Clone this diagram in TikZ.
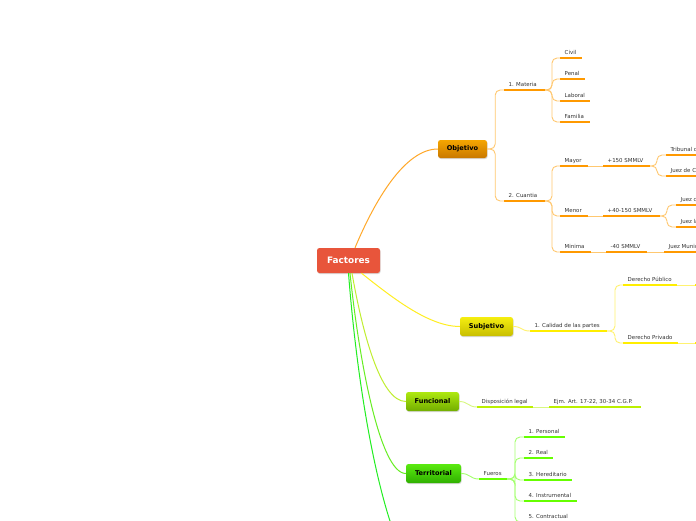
\documentclass[tikz,border=0pt]{standalone}
\usepackage{fontspec}
\setmainfont{DejaVu Sans}
\usetikzlibrary{calc,shadows}
\definecolor{facred}{HTML}{E8553B}
\definecolor{orUL}{HTML}{FF9900}
\definecolor{orC1}{HTML}{FFA829}
\definecolor{orC2}{HTML}{FFC870}
\definecolor{orTop}{HTML}{F5A500}
\definecolor{orBot}{HTML}{C97800}
\definecolor{yeUL}{HTML}{FFEE00}
\definecolor{yeC1}{HTML}{FFEE22}
\definecolor{yeC2}{HTML}{FFF270}
\definecolor{yeTop}{HTML}{F5EE10}
\definecolor{yeBot}{HTML}{C8BE00}
\definecolor{liUL}{HTML}{BBF000}
\definecolor{liC1}{HTML}{C0EE30}
\definecolor{liC2}{HTML}{D8F880}
\definecolor{liTop}{HTML}{AEE810}
\definecolor{liBot}{HTML}{72AE00}
\definecolor{grUL}{HTML}{66FF00}
\definecolor{grC1}{HTML}{66EE22}
\definecolor{grC2}{HTML}{A5FF70}
\definecolor{grTop}{HTML}{5AEA10}
\definecolor{grBot}{HTML}{30B000}
\definecolor{grBr}{HTML}{22EE22}
\definecolor{txt}{HTML}{333333}
\tikzset{
  mainnode/.style={rounded corners=2.5pt, inner sep=0pt, minimum height=19pt,
    font=\fontsize{6.6}{7.5}\selectfont\bfseries, text=black,
    drop shadow={opacity=0.3, shadow xshift=0.6pt, shadow yshift=-1pt}},
  sub/.style={font=\fontsize{5.45}{6.5}\selectfont, text=txt, inner xsep=4.5pt,
    inner ysep=3.6pt, text depth=0pt, anchor=south west},
  ul/.style={draw=#1, line width=2.4pt},
  cone/.style={draw=#1, line width=1pt},
  ctwo/.style={draw=#1, line width=0.9pt},
  forkline/.style={draw=#1, line width=0.9pt, rounded corners=5pt}
}
\newcommand\tpc[6]{%
  \node[sub] (#1) at (#2,#3) {#6};
  \coordinate (#1e) at (#4,#3);
  \draw[ul=#5] (#1.south west) -- (#1e);}
\begin{document}
\begin{tikzpicture}[x=1pt,y=-1pt]
\clip (0,0) rectangle (696,520);
\fill[white] (0,0) rectangle (696,520);

\coordinate (botend) at (393,530);

% ---- main nodes
\node[mainnode, minimum width=63pt, minimum height=25pt, fill=facred, text=white,
      font=\fontsize{8.9}{10}\selectfont\bfseries] (fac) at (348.5,260.5) {Factores};
\node[mainnode, minimum width=49pt, minimum height=18pt, top color=orTop, bottom color=orBot] (obj) at (462.5,149) {Objetivo};
\node[mainnode, minimum width=53pt, top color=yeTop, bottom color=yeBot] (subj) at (486.5,326.5) {Subjetivo};
\node[mainnode, minimum width=53pt, top color=liTop, bottom color=liBot] (fun) at (432.5,401.5) {Funcional};
\node[mainnode, minimum width=55pt, top color=grTop, bottom color=grBot] (ter) at (433.5,473.5) {Territorial};

% ---- main branch connectors
\draw[cone=orC1] ($(fac.north)+(6.5,0)$) .. controls (375,200) and (405,149) .. (obj.west);
\draw[cone=yeC1] ($(fac.south)+(13,0)$) .. controls (395,300) and (430,326.5) .. (subj.west);
\draw[cone=liC1] ($(fac.south)+(3.5,0)$) .. controls (362,330) and (380,401.5) .. (fun.west);
\draw[cone=grC1] ($(fac.south)+(1.5,0)$) .. controls (359,360) and (380,473.5) .. (ter.west);
\draw[cone=grBr] ($(fac.south)+(0,0)$) .. controls (356,370) and (372,470) .. (botend);

% ---- Objetivo subtree
\tpc{materia}{504}{90}{545}{orUL}{1. Materia}
\tpc{cuantia}{504}{201}{545}{orUL}{2. Cuantia}
\draw[forkline=orC2] (obj.east) -- ++(8,0) |- (materia.south west);
\draw[forkline=orC2] (obj.east) -- ++(8,0) |- (cuantia.south west);

\tpc{civil}{560}{58}{582}{orUL}{Civil}
\tpc{penal}{560}{79}{585}{orUL}{Penal}
\tpc{laboral}{560}{101}{590}{orUL}{Laboral}
\tpc{familia}{560}{122}{590}{orUL}{Familia}
\foreach \c in {civil,penal,laboral,familia}
  \draw[forkline=orC2] (materiae) -- ++(7,0) |- (\c.south west);

\tpc{mayor}{560}{166}{588}{orUL}{Mayor}
\tpc{menor}{560}{216}{588}{orUL}{Menor}
\tpc{minima}{560}{252}{591}{orUL}{Minima}
\foreach \c in {mayor,menor,minima}
  \draw[forkline=orC2] (cuantiae) -- ++(7,0) |- (\c.south west);

\tpc{mcien}{603}{166}{650}{orUL}{+150 SMMLV}
\tpc{mcuar}{603}{216}{660}{orUL}{+40-150 SMMLV}
\tpc{mmin}{606}{252}{647}{orUL}{-40 SMMLV}
\draw[ctwo=orC2] (mayore) -- (mcien.south west);
\draw[ctwo=orC2] (menore) -- (mcuar.south west);
\draw[ctwo=orC2] (minimae) -- (mmin.south west);

\tpc{trib}{666}{155}{730}{orUL}{Tribunal de Distrito}
\tpc{jcir}{666}{176}{730}{orUL}{Juez de Circuito}
\draw[forkline=orC2] (mciene) -- ++(7,0) |- (trib.south west);
\draw[forkline=orC2] (mciene) -- ++(7,0) |- (jcir.south west);
\tpc{jciv}{676}{205}{730}{orUL}{Juez civil}
\tpc{jlab}{676}{227}{730}{orUL}{Juez laboral}
\draw[forkline=orC2] (mcuare) -- ++(7,0) |- (jciv.south west);
\draw[forkline=orC2] (mcuare) -- ++(7,0) |- (jlab.south west);
\tpc{jmun}{664}{252}{730}{orUL}{Juez Municipal}
\draw[ctwo=orC2] (mmine) -- (jmun.south west);

% ---- Subjetivo subtree
\tpc{calidad}{530}{331}{607}{yeUL}{1. Calidad de las partes}
\draw[ctwo=yeC2] (subj.east) .. controls +(9,0) and +(-9,0) .. (calidad.south west);
\tpc{dpub}{623}{285}{677}{yeUL}{Derecho Público}
\tpc{dpriv}{623}{343}{678}{yeUL}{Derecho Privado}
\draw[forkline=yeC2] (calidade) -- ++(8,0) |- (dpub.south west);
\draw[forkline=yeC2] (calidade) -- ++(8,0) |- (dpriv.south west);
\coordinate (dpubc) at (695,285);
\coordinate (dprivc) at (695,343);
\draw[ctwo=yeC2] (dpube) -- (dpubc);
\draw[ctwo=yeC2] (dprive) -- (dprivc);
\draw[ul=yeUL] (dpubc) -- ++(10,0);
\draw[ul=yeUL] (dprivc) -- ++(10,0);

% ---- Funcional subtree
\tpc{disp}{477}{407}{533}{liUL}{Disposición legal}
\draw[ctwo=liC2] (fun.east) .. controls +(9,0) and +(-9,0) .. (disp.south west);
\tpc{ejm}{549}{407}{641}{liUL}{Ejm. Art. 17-22, 30-34 C.G.P.}
\draw[ctwo=liC2] (dispe) -- (ejm.south west);

% ---- Territorial subtree
\tpc{fueros}{479}{479}{507}{grUL}{Fueros}
\draw[ctwo=grC2] (ter.east) .. controls +(9,0) and +(-9,0) .. (fueros.south west);
\tpc{pers}{524}{437}{565}{grUL}{1. Personal}
\tpc{real}{524}{458}{553}{grUL}{2. Real}
\tpc{here}{524}{480}{572}{grUL}{3. Hereditario}
\tpc{inst}{524}{501}{577}{grUL}{4. Instrumental}
\tpc{cont}{524}{522}{575}{grUL}{5. Contractual}
\foreach \c in {pers,real,here,inst,cont}
  \draw[forkline=grC2] (fuerose) -- ++(8,0) |- (\c.south west);
\end{tikzpicture}
\end{document}
